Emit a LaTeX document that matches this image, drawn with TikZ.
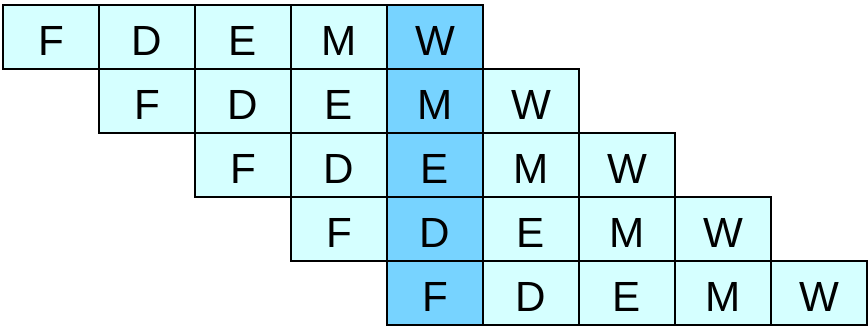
\documentclass[tikz,border=0pt]{standalone}
\usepackage{fontspec}
\setmainfont{Liberation Sans}
\definecolor{cellcyan}{HTML}{D5FFFF}
\definecolor{stageblue}{HTML}{77D3FF}

\begin{document}
\begin{tikzpicture}[x=0.025cm,y=-0.025cm,
  stagebox/.style={draw,line width=2pt,minimum width=2.4cm,minimum height=1.6cm,
    inner sep=0pt,text height=0.9cm,text depth=0pt,font=\fontsize{30}{30}\selectfont}]

\useasboundingbox (0,0) rectangle (868,327);

% one row per instruction, shifted by one slot each
\foreach \row in {0,...,4}{
  \foreach \lbl [count=\col from 0] in {F,D,E,M,W}{
    \pgfmathtruncatemacro{\slot}{\row+\col}
    \ifnum\slot=4 \def\cellfill{stageblue}\else\def\cellfill{cellcyan}\fi
    \node[stagebox,fill=\cellfill] (c-\row-\col) at (51+96*\slot,37+64*\row) {\lbl};
  }
}

\end{tikzpicture}
\end{document}
